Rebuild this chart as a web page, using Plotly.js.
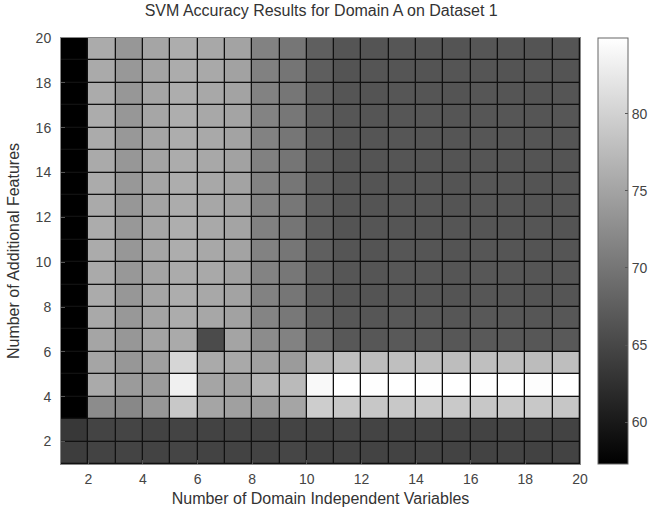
<!DOCTYPE html>
<html>
<head>
<meta charset="utf-8">
<script src="https://cdn.plot.ly/plotly-3.0.1.min.js"></script>
<style>html,body{margin:0;padding:0;background:#fff;}#chart{width:672px;height:507px;}</style>
</head>
<body>
<div id="chart"></div>
<script>
// Cell edges (pcolor-style): 20 edges -> 19 cells per axis
const xEdges = [1,2,3,4,5,6,7,8,9,10,11,12,13,14,15,16,17,18,19,20];
const yEdges = [1,2,3,4,5,6,7,8,9,10,11,12,13,14,15,16,17,18,19,20];
const xTicks = [2,4,6,8,10,12,14,16,18,20];
const yTicks = [2,4,6,8,10,12,14,16,18,20];
const cbTicks = [60,65,70,75,80];

// Accuracy rows, bottom (y=1..2) to top (y=19..20); columns x=1..2 ... 19..20
const row01 = [63.9,64.6,64.7,64.5,64.8,64.6,64.5,64.6,64.9,64.5,64.7,64.6,64.5,64.7,64.6,64.5,64.7,64.4,64.6];
const row02 = [63.4,64.7,64.8,64.6,64.7,64.5,64.7,64.6,64.7,64.6,64.8,64.7,64.5,64.6,64.7,64.6,64.5,64.7,64.6];
const row03 = [57.3,72.4,72.0,73.6,78.9,75.2,74.6,74.1,75.2,79.5,78.9,78.8,79.0,78.9,79.1,78.8,78.9,79.0,78.7];
const row04 = [57.3,75.7,74.1,74.2,83.3,75.2,75.1,76.8,77.4,84.3,84.9,84.8,84.9,84.8,84.9,84.8,84.9,84.7,84.9];
const row05 = [57.3,75.2,73.6,74.6,80.5,75.7,75.6,74.6,74.1,76.8,77.9,77.8,78.0,77.9,77.8,78.0,77.9,77.7,77.9];
const row06 = [57.3,75.2,73.6,75.1,75.7,65.4,75.1,72.4,71.4,68.6,66.8,66.7,66.9,66.8,66.7,66.9,66.8,66.7,66.9];
const row07 = [57.3,75.6,73.7,75.0,75.9,75.4,74.8,71.6,70.3,67.8,66.7,66.6,66.8,66.7,66.6,66.8,66.7,66.6,66.7];
const row08 = [57.3,75.8,73.6,75.2,76.0,75.5,74.9,71.4,70.1,67.6,66.5,66.4,66.6,66.5,66.4,66.6,66.5,66.4,66.5];
const row09 = [57.3,75.7,73.8,75.1,75.8,75.6,74.7,71.5,70.2,67.7,66.6,66.5,66.7,66.6,66.5,66.7,66.6,66.5,66.6];
const row10 = [57.3,75.8,73.6,75.2,76.0,75.5,74.9,71.4,70.1,67.6,66.5,66.4,66.6,66.5,66.4,66.6,66.5,66.4,66.5];
const row11 = [57.3,75.9,73.7,75.3,76.1,75.6,75.0,71.3,70.0,67.5,66.4,66.5,66.5,66.4,66.5,66.5,66.4,66.5,66.4];
const row12 = [57.3,75.7,73.6,75.1,75.9,75.4,74.8,71.5,70.2,67.7,66.5,66.4,66.6,66.5,66.4,66.6,66.5,66.4,66.5];
const row13 = [57.3,75.8,73.7,75.2,76.0,75.5,74.9,71.4,70.1,67.6,66.5,66.4,66.5,66.5,66.4,66.6,66.5,66.4,66.5];
const row14 = [57.3,75.7,73.6,75.1,75.9,75.5,74.8,71.3,70.0,67.5,66.4,66.4,66.5,66.4,66.4,66.5,66.4,66.4,66.4];
const row15 = [57.3,75.8,73.7,75.2,76.0,75.6,74.9,71.4,70.1,67.6,66.5,66.5,66.6,66.5,66.5,66.6,66.5,66.5,66.5];
const row16 = [57.3,75.9,73.6,75.3,76.1,75.5,75.0,71.5,70.2,67.7,66.6,66.5,66.6,66.6,66.5,66.6,66.6,66.5,66.6];
const row17 = [57.3,75.8,73.6,75.2,76.0,75.5,74.9,71.4,70.1,67.6,66.5,66.4,66.6,66.5,66.4,66.6,66.5,66.4,66.5];
const row18 = [57.3,75.7,73.7,75.1,75.9,75.6,74.8,71.3,70.0,67.5,66.4,66.5,66.5,66.4,66.5,66.5,66.4,66.5,66.4];
const row19 = [57.3,75.8,73.6,75.2,76.0,75.5,74.9,71.4,70.1,67.6,66.5,66.4,66.6,66.5,66.4,66.6,66.5,66.4,66.5];

const z = [row01,row02,row03,row04,row05,row06,row07,row08,row09,row10,
           row11,row12,row13,row14,row15,row16,row17,row18,row19];

const FAM = 'Liberation Sans, Arial, sans-serif';
const tickFont = {family: FAM, size: 14, color: '#444'};
const titleFont = {family: FAM, size: 16, color: '#333'};

const trace = {
  type: 'heatmap',
  x: xEdges,
  y: yEdges,
  z: z,
  zmin: 57.3,
  zmax: 84.9,
  colorscale: [[0,'rgb(0,0,0)'],[1,'rgb(255,255,255)']],
  xgap: 1.3,
  ygap: 1.3,
  colorbar: {
    x: 1.0347, xanchor: 'left', xref: 'paper',
    y: 0.5, yanchor: 'middle',
    len: 1, lenmode: 'fraction',
    thickness: 30,
    outlinecolor: '#666', outlinewidth: 1,
    tickvals: cbTicks,
    ticks: 'inside', ticklen: 3, tickcolor: '#555',
    tickfont: tickFont,
    xpad: 0, ypad: 0
  }
};

const layout = {
  width: 672, height: 507,
  margin: {l: 61, r: 92, t: 38, b: 43},
  paper_bgcolor: '#fff',
  plot_bgcolor: '#111',
  font: tickFont,
  title: {
    text: 'SVM Accuracy Results for Domain A on Dataset 1',
    x: 0.478, xanchor: 'center', y: 0.99, yanchor: 'top',
    font: titleFont
  },
  xaxis: {
    range: [1, 20],
    tickvals: xTicks,
    ticks: 'inside', ticklen: 4, tickcolor: '#555',
    ticklabelstandoff: 2,
    showgrid: false, zeroline: false,
    showline: true, linecolor: '#888', mirror: true,
    tickfont: tickFont,
    automargin: false,
    title: {text: 'Number of Domain Independent Variables', font: titleFont}
  },
  yaxis: {
    range: [1, 20],
    tickvals: yTicks,
    ticks: 'inside', ticklen: 4, tickcolor: '#555',
    ticklabelstandoff: 6,
    showgrid: false, zeroline: false,
    showline: true, linecolor: '#888', mirror: true,
    tickfont: tickFont,
    automargin: false,
    title: {text: 'Number of Additional Features', font: titleFont}
  }
};

Plotly.newPlot('chart', [trace], layout, {displayModeBar: false, staticPlot: true});
</script>
</body>
</html>
